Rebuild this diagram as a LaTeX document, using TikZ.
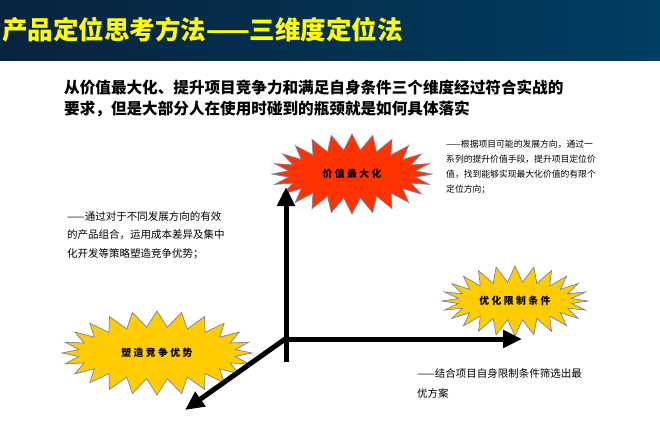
\documentclass[tikz,border=0pt]{standalone}
\usepackage{fontspec}
\setmainfont{Noto Sans CJK SC}
\newfontfamily\starfont{Noto Sans CJK SC}[LetterSpace=25]
\usetikzlibrary{shapes.symbols,arrows.meta}
\definecolor{bandleft}{RGB}{8,35,62}
\definecolor{bandmid}{RGB}{0,112,150}
\definecolor{bandright}{RGB}{0,62,98}
\definecolor{titleyellow}{RGB}{255,255,0}
\definecolor{burstred}{RGB}{255,51,0}
\definecolor{burstyellow}{RGB}{255,204,0}
\definecolor{burstedge}{RGB}{120,130,170}
\tikzset{
  burst/.style={starburst, starburst points=24, starburst point height=16pt,
    random starburst=0, draw=burstedge, line width=0.7pt, inner sep=0pt,
    font=\starfont\bfseries\fontsize{9.8}{11}\selectfont},
  axis/.style={line width=5pt, -{Triangle[width=17pt,length=19pt]}},
  note/.style={anchor=base west, align=left, inner sep=0pt},
}
\begin{document}
\begin{tikzpicture}[x=1pt,y=-1pt]
			%%%%% BACKGROUND %%%%%
			\fill[white] (0,0) rectangle (660,423);
			\useasboundingbox (0,0) rectangle (660,423);
			\shade[left color=bandleft, middle color=bandmid, right color=bandright] (0,0) rectangle (660,60);
			
			%%%%% TITLE %%%%%
			\node[anchor=base west, inner sep=0pt, text=titleyellow, font=\bfseries\fontsize{25.5}{28}\selectfont] (title) at (2,39) {产品定位思考方法——三维度定位法};
			% base anchor sits on the last line
			\node[note, font=\bfseries\fontsize{15.6}{21}\selectfont] (subtitle) at (64,114)
			  {从价值最大化、提升项目竞争力和满足自身条件三个维度经过符合实战的\\要求，但是大部分人在使用时碰到的瓶颈就是如何具体落实};
			
			%%%%% STARS %%%%%
			\node[burst, fill=burstred, minimum width=160pt, minimum height=80pt] (maxval) at (352,174) {价值最大化};
			\node[burst, fill=burstyellow, minimum width=146pt, minimum height=70pt] (limits) at (515,301) {优化限制条件};
			\node[burst, fill=burstyellow, minimum width=190pt, minimum height=84pt] (advantage) at (157,353) {塑造竞争优势};
			
			%%%%% AXES %%%%%
			\coordinate (O) at (288,337);
			\coordinate (ybot) at (286,362);
			\coordinate (ytop) at (286,187);
			\coordinate (xstart) at (283,339);
			\coordinate (xend) at (522,339);
			\coordinate (zend) at (185,410);
			\draw[axis] (ybot) -- (ytop);
			\draw[axis] (xstart) -- (xend);
			\draw[axis] (O) -- (zend);
			
			%%%%% NOTES %%%%%
			\node[note, font=\fontsize{8.8}{15}\selectfont] (noteval) at (446,192.5)
			  {——根据项目可能的发展方向，通过一\\系列的提升价值手段，提升项目定位价\\值，找到能够实现最大化价值的有限个\\定位方向；};
			\node[note, font=\fontsize{10.5}{18.5}\selectfont] (noteadv) at (67,257)
			  {——通过对于不同发展方向的有效\\的产品组合，运用成本差异及集中\\化开发等策略塑造竞争优势；};
			\node[note, font=\fontsize{10.5}{20}\selectfont] (notelim) at (417,397)
			  {——结合项目自身限制条件筛选出最\\优方案};
\end{tikzpicture}
\end{document}
